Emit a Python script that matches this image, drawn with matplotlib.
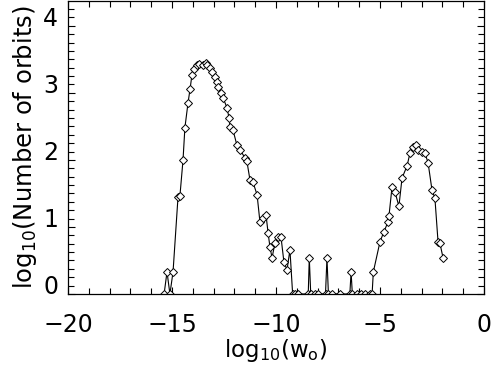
import matplotlib
matplotlib.use('Agg')
import matplotlib.pyplot as plt
from matplotlib.ticker import MultipleLocator

# histogram of log10(w_o) : bin centres and log10(number of orbits)
log_w = [-15.38, -15.24, -15.10, -14.95, -14.71, -14.62, -14.47, -14.38,
         -14.23, -14.13, -14.04, -13.94, -13.80, -13.70, -13.51, -13.37,
         -13.32, -13.17, -13.08, -12.93, -12.84, -12.79, -12.64, -12.55,
         -12.36, -12.26, -12.21, -12.07, -11.88, -11.73, -11.49, -11.40,
         -11.25, -11.11, -10.91, -10.77, -10.63, -10.48, -10.38, -10.29,
         -10.19, -10.05, -9.90, -9.76, -9.62, -9.47, -9.33, -9.20,
         -9.08, -8.92, -8.45, -8.40, -8.33, -8.13, -7.98, -7.62,
         -7.55, -7.48, -7.31, -6.92, -6.45, -6.39, -6.33, -6.11,
         -5.90, -5.70, -5.50, -5.38, -5.32, -5.00, -4.81, -4.62,
         -4.57, -4.42, -4.28, -4.09, -3.94, -3.70, -3.56, -3.41,
         -3.27, -3.17, -2.98, -2.84, -2.69, -2.50, -2.36, -2.21,
         -2.12, -1.97]
log_n = [0.0, 0.33, 0.0, 0.33, 1.45, 1.46, 2.00, 2.48,
         2.85, 3.06, 3.27, 3.36, 3.42, 3.43, 3.42, 3.45,
         3.42, 3.37, 3.31, 3.24, 3.16, 3.09, 3.00, 2.93,
         2.78, 2.63, 2.49, 2.45, 2.22, 2.15, 2.03, 1.98,
         1.70, 1.67, 1.48, 1.07, 1.13, 1.18, 0.91, 0.70,
         0.54, 0.76, 0.85, 0.85, 0.48, 0.36, 0.66, 0.0,
         0.0, 0.0, 0.0, 0.54, 0.0, 0.0, 0.0, 0.0,
         0.54, 0.0, 0.0, 0.0, 0.0, 0.33, 0.0, 0.0,
         0.0, 0.0, 0.0, 0.0, 0.33, 0.78, 0.93, 1.07,
         1.16, 1.60, 1.52, 1.31, 1.73, 1.91, 2.10, 2.19,
         2.22, 2.15, 2.12, 2.10, 1.96, 1.55, 1.43, 0.78,
         0.76, 0.54]

x_ticks = [-20, -15, -10, -5, 0]
y_ticks = [0, 1, 2, 3, 4]

plt.rcParams['font.family'] = ['DejaVu Sans']
plt.rcParams['mathtext.fontset'] = 'dejavusans'

fig = plt.figure(figsize=(4.91, 3.66), dpi=100)
ax = fig.add_axes([68/491, 1-294/366, 416/491, 293/366])

ax.plot(log_w, log_n, color='black', lw=0.8, marker='D', ms=4.3,
        mfc='white', mec='black', mew=0.7)

ax.set_xlim(-20, 0)
ax.set_ylim(0, 4.37)
ax.set_xticks(x_ticks)
ax.set_yticks(y_ticks)
ax.xaxis.set_minor_locator(MultipleLocator(1))
ax.yaxis.set_minor_locator(MultipleLocator(0.125))
ax.tick_params(which='both', direction='in', top=True, right=True,
               width=0.8, labelsize=17)
ax.tick_params(which='major', length=5)
ax.tick_params(which='minor', length=4)
ax.tick_params(axis='x', pad=14)
ax.tick_params(axis='y', pad=7)
for lab in ax.get_yticklabels():
    lab.set_verticalalignment('baseline')
for sp in ax.spines.values():
    sp.set_linewidth(0.9)

ax.set_xlabel('log$_{10}$(w$_\\mathrm{o}$)', fontsize=16.5, labelpad=0)
ax.set_ylabel('log$_{10}$(Number of orbits)', fontsize=17.5, labelpad=3)

fig.savefig('out.png', dpi=100)
